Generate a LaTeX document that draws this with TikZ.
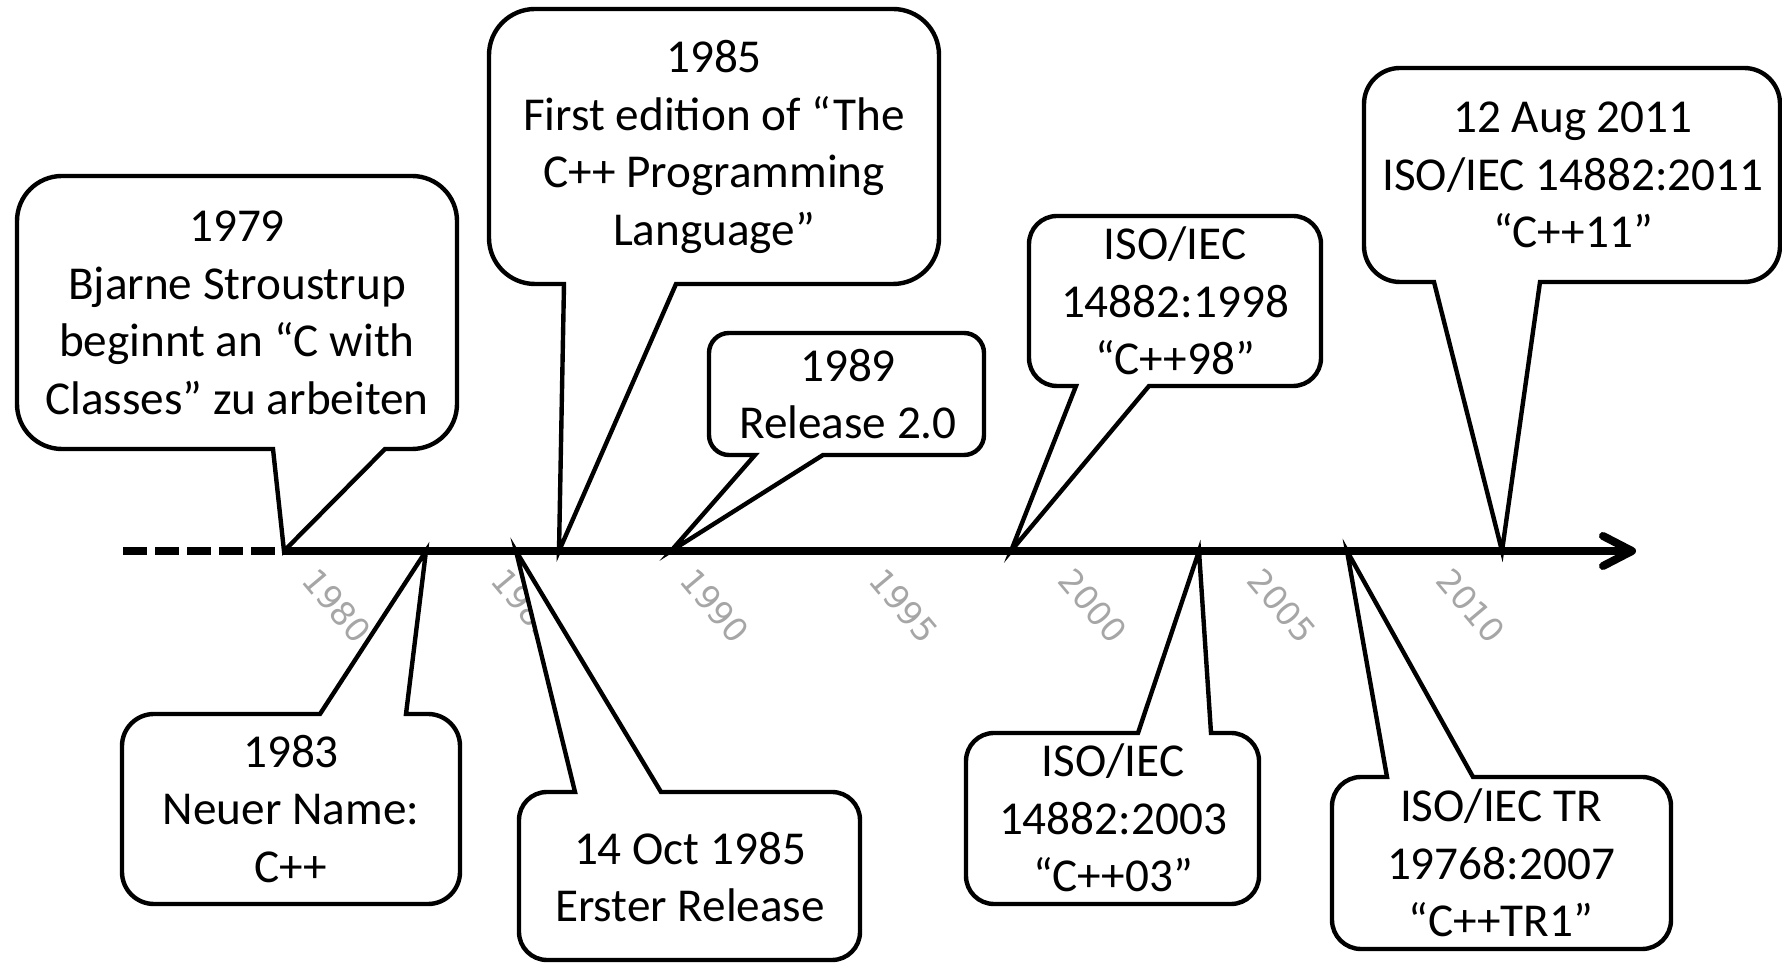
\documentclass[tikz,border=0pt]{standalone}
\usepackage{fontspec}
\setmainfont{Carlito}
\newfontfamily\tickfont{DejaVu Sans}
\definecolor{tickgray}{HTML}{A6A6A6}
\tikzset{
  callbox/.style={draw=black, fill=white, line width=2.2pt},
  boxtext/.style={inner sep=0pt, align=center, font=\fontsize{23.6}{28.75}\selectfont},
  ticklabel/.style={inner sep=0pt, text=tickgray, font=\tickfont\fontsize{16.5}{19}\selectfont, rotate=-50},
  axisline/.style={line width=4pt},
}
% pointer below the box: L, B, R, T, r, base left, base right, tip coordinate
\newcommand{\calldown}[8]{\draw[callbox] (#6,#2) -- ({#1+#5},#2) arc[start angle=270,end angle=180,radius=#5] -- (#1,{#4-#5}) arc[start angle=180,end angle=90,radius=#5] -- ({#3-#5},#4) arc[start angle=90,end angle=0,radius=#5] -- (#3,{#2+#5}) arc[start angle=0,end angle=-90,radius=#5] -- (#7,#2) -- (#8) -- cycle;}
% pointer above the box: L, T, R, B, r, base left, base right, tip coordinate
\newcommand{\callup}[8]{\draw[callbox] (#6,#2) -- ({#1+#5},#2) arc[start angle=90,end angle=180,radius=#5] -- (#1,{#4+#5}) arc[start angle=180,end angle=270,radius=#5] -- ({#3-#5},#4) arc[start angle=270,end angle=360,radius=#5] -- (#3,{#2-#5}) arc[start angle=0,end angle=90,radius=#5] -- (#7,#2) -- (#8) -- cycle;}
\begin{document}
\begin{tikzpicture}[x=0.5pt,y=0.5pt]
\useasboundingbox (0,0) rectangle (1782,963);
% tick labels
\node[ticklabel] (y1980) at (337,357) {1980};
\node[ticklabel] (y1985) at (526,357) {1985};
\node[ticklabel] (y1990) at (715,357) {1990};
\node[ticklabel] (y1995) at (904,357) {1995};
\node[ticklabel] (y2000) at (1093,357) {2000};
\node[ticklabel] (y2005) at (1282,357) {2005};
\node[ticklabel] (y2010) at (1471,357) {2010};
% tips on the axis
\coordinate (tA) at (284,412);
\coordinate (tB) at (559,412);
\coordinate (tC) at (671,412);
\coordinate (tD) at (1011,412);
\coordinate (tE) at (1502,412);
\coordinate (tF) at (426,412);
\coordinate (tG) at (516,412);
\coordinate (tH) at (1199,412);
\coordinate (tI) at (1347,412);
% callouts above the axis
\calldown{17}{514}{457}{787}{45}{273}{385}{tA}
\calldown{489}{679}{939}{954}{46}{564}{676}{tB}
\calldown{709}{508}{984}{630}{20}{755}{823}{tC}
\calldown{1029}{577}{1321}{747}{28}{1076}{1149}{tD}
\calldown{1364}{681}{1780}{895}{36}{1434}{1540}{tE}
% callouts below the axis
\callup{122}{249}{460}{59}{32}{320}{406}{tF}
\callup{519}{171}{860}{3}{28}{575}{661}{tG}
\callup{966}{230}{1259}{59}{28}{1138}{1211}{tH}
\callup{1332}{186}{1671}{14}{29}{1387}{1473}{tI}
% axis
\coordinate (axstart) at (123,412);
\coordinate (axend) at (1630,412);
\coordinate (arrtip) at (1632,412);
\coordinate (arrup) at (1603,427);
\coordinate (arrdn) at (1603,397);
\draw[axisline, dash pattern=on 12pt off 4pt] (axstart) -- (tA);
\draw[axisline] (tA) -- (axend);
\draw[axisline, line cap=round, line join=round] (arrup) -- (arrtip) -- (arrdn);
% texts
\node[boxtext] (nA) at (237,650) {1979\\Bjarne Stroustrup\\beginnt an “C with\\Classes” zu arbeiten};
\node[boxtext] (nB) at (714,816) {1985\\First edition of “The\\C++ Programming\\Language”};
\node[boxtext] (nC) at (848,569) {1989\\Release 2.0};
\node[boxtext] (nD) at (1175,662) {ISO/IEC\\14882:1998\\“C++98”};
\node[boxtext] (nE) at (1573,788) {12 Aug 2011\\ISO/IEC 14882:2011\\“C++11”};
\node[boxtext] (nF) at (291,154) {1983\\Neuer Name:\\C++};
\node[boxtext] (nG) at (690,86) {14 Oct 1985\\Erster Release};
\node[boxtext] (nH) at (1113,145) {ISO/IEC\\14882:2003\\“C++03”};
\node[boxtext] (nI) at (1501,100) {ISO/IEC TR\\19768:2007\\“C++TR1”};
\end{tikzpicture}
\end{document}
